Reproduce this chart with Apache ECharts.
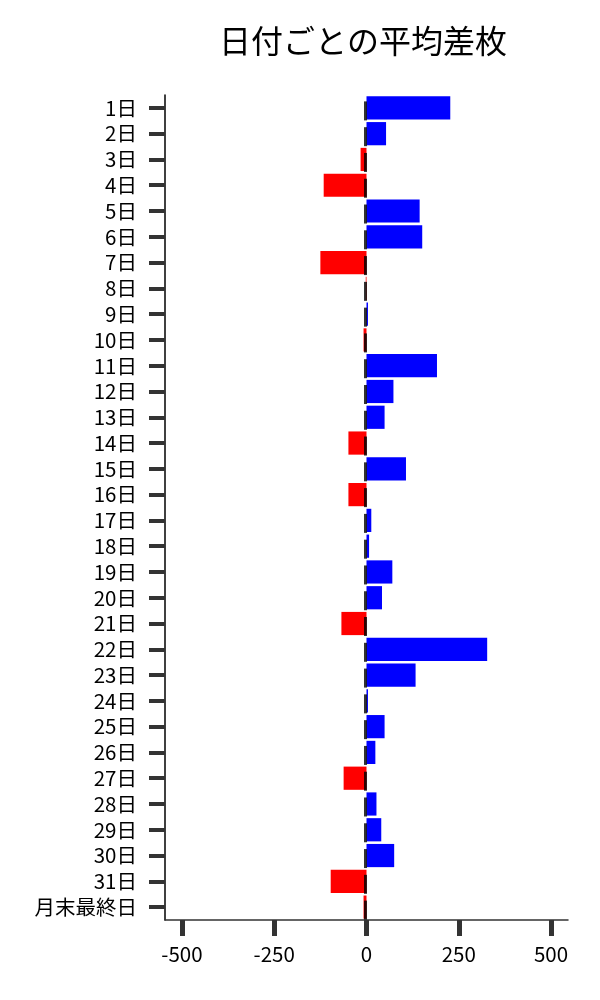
<!DOCTYPE html>
<html>
<head>
<meta charset="utf-8">
<script src="https://cdn.jsdelivr.net/npm/echarts@6/dist/echarts.min.js"></script>
<style>
  html, body { margin: 0; padding: 0; background: #fff; }
  #chart { width: 600px; height: 1000px; }
</style>
</head>
<body>
<div id="chart"></div>
<script>
// 日付カテゴリ
var days = ['1日','2日','3日','4日','5日','6日','7日','8日','9日','10日',
    '11日','12日','13日','14日','15日','16日','17日','18日','19日','20日',
    '21日','22日','23日','24日','25日','26日','27日','28日','29日','30日',
    '31日','月末最終日'];
// 平均差枚
var avgDiff = [227, 53, -16, -116, 144, 151, -125, -2, 4, -8,
    191, 73, 49, -49, 107, -49, 13, 7, 70, 42,
    -68, 327, 133, 4, 49, 24, -62, 27, 40, 75,
    -97, -8];
var xTicks = [-500, -250, 0, 250, 500];

var font = '"Noto Sans CJK JP", "Noto Sans", sans-serif';

function createDiffChart(id) {
    var chart = echarts.init(document.getElementById(id));

    var option = {
        animation: false,
        backgroundColor: '#fff',
        title: {
            text: '日付ごとの平均差枚',
            left: 358,
            top: 20,
            textAlign: 'center',
            textStyle: {
                fontFamily: font,
                fontSize: 32,
                fontWeight: 'normal',
                color: '#000'
            }
        },
        grid: {
            left: 165,
            right: 32,
            top: 95,
            bottom: 80
        },
        xAxis: {
            type: 'value',
            min: -546,
            max: 546,
            axisLine: {show: true, onZero: false, lineStyle: {color: '#333', width: 1.5}},
            axisTick: {
                show: true,
                customValues: xTicks,
                length: 16,
                lineStyle: {color: '#333', width: 5}
            },
            axisLabel: {
                customValues: xTicks,
                margin: 24,
                fontFamily: font,
                fontSize: 20.5,
                color: '#000'
            },
            splitLine: {show: false}
        },
        yAxis: {
            type: 'category',
            data: days,
            inverse: true,
            axisLine: {show: true, onZero: false, lineStyle: {color: '#000', width: 1.5}},
            axisTick: {
                show: true,
                interval: 0,
                alignWithLabel: true,
                length: 16,
                lineStyle: {color: '#333', width: 4}
            },
            axisLabel: {
                interval: 0,
                margin: 28,
                fontFamily: font,
                fontSize: 20.5,
                color: '#000'
            }
        },
        series: [
            {
                name: '平均差枚',
                type: 'bar',
                data: avgDiff,
                barCategoryGap: '10%',
                itemStyle: {
                    color: function (p) {
                        return p.value >= 0 ? '#0000ff' : '#ff0000';
                    }
                }
            },
            {
                // 0位置の黒い短線
                type: 'scatter',
                data: days.map(function (d) { return [0, d]; }),
                symbol: 'rect',
                symbolSize: [3, 19],
                symbolOffset: [-1, 3],
                itemStyle: {color: '#000'},
                z: 5,
                silent: true
            }
        ]
    };
    chart.setOption(option);
    return chart;
}

createDiffChart('chart');
</script>
</body>
</html>
